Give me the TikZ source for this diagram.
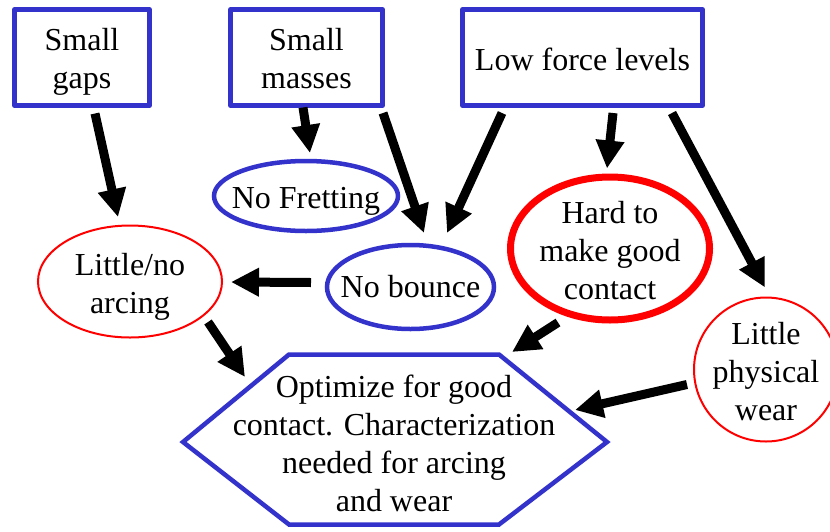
\documentclass[tikz,border=0pt]{standalone}
\usepackage{fontspec}
\setmainfont{Liberation Serif}
\usetikzlibrary{arrows.meta,shapes.geometric}
\definecolor{causeblue}{HTML}{3333CC}
\definecolor{warnred}{HTML}{FF0000}
\begin{document}
\begin{tikzpicture}[x=1pt,y=-1pt,
  txt/.style={font=\fontsize{32}{38}\selectfont, align=center, inner sep=0pt},
  frame/.style={inner sep=0pt, outer sep=0pt},
  causebox/.style={frame, draw=causeblue, line width=4.5pt, rectangle, line join=round, minimum height=96pt},
  blueoval/.style={frame, draw=causeblue, line width=4.5pt, ellipse},
  thinoval/.style={frame, draw=warnred, line width=2pt, ellipse},
  thickoval/.style={frame, draw=warnred, line width=7pt, ellipse},
  hexline/.style={draw=causeblue, line width=4.5pt},
  flow/.style={line width=9pt, -{Triangle[width=27pt,length=28pt]}}
]
\useasboundingbox (0,0) rectangle (830,531);

% causes along the top (text lowered slightly inside each frame)
\node[causebox, minimum width=135pt] (gaps) at (82,57.5) {};
\node[txt] (gaps-text) at ([yshift=-4]gaps.center) {Small\\gaps};
\node[causebox, minimum width=152pt] (masses) at (306.5,57.5) {};
\node[txt] (masses-text) at ([yshift=-1.5]masses.center) {Small\\masses};
\node[causebox, minimum width=240pt] (force) at (582.5,57.5) {};
\node[txt] (force-text) at ([yshift=-2]force.center) {Low force levels};

% effects
\node[blueoval, minimum width=184pt, minimum height=70pt] (fret) at (306,196) {};
\node[txt] (fret-text) at ([yshift=-5]fret.center) {No Fretting};

\node[thinoval, minimum width=184pt, minimum height=112pt] (arc) at (130,281.5) {};
\node[txt] (arc-text) at ([yshift=-5]arc.center) {Little/no\\arcing};

\node[blueoval, minimum width=167pt, minimum height=84pt] (bounce) at (410.5,287) {};
\node[txt] (bounce-text) at (bounce.center) {No bounce};

\node[thickoval, minimum width=199pt, minimum height=143pt] (hard) at (610,248.5) {};
\node[txt] (hard-text) at ([yshift=-2]hard.center) {Hard to\\make good\\contact};

\node[thinoval, minimum width=144pt, minimum height=144pt] (wear) at (766,369.5) {};
\node[txt] (wear-text) at ([yshift=-2]wear.center) {Little\\physical\\wear};

% conclusion
\coordinate (goal) at (394,442);
\draw[hexline] ([shift={(-211,0)}]goal) -- ([shift={(-105,-87.5)}]goal)
  -- ([shift={(105,-87.5)}]goal) -- ([shift={(213,0)}]goal)
  -- ([shift={(105,82.5)}]goal) -- ([shift={(-105,82.5)}]goal) -- cycle;
\node[txt] (goal-text) at ([yshift=-1.5]goal) {Optimize for good\\contact. Characterization\\needed for arcing\\and wear};

% connectors
\draw[flow] ([shift={(13,56)}]gaps.center) -- ([shift={(-12,-64.5)}]arc.center);
\draw[flow] ([shift={(-3.5,50)}]masses.center) -- ([shift={(4,-43)}]fret.center);
\draw[flow] ([shift={(76.5,55.5)}]masses.center) -- ([shift={(13.5,-54)}]bounce.center);
\draw[flow] ([shift={(-80.5,55.5)}]force.center) -- ([shift={(36.5,-54)}]bounce.center);
\draw[flow] ([shift={(30.5,55.5)}]force.center) -- ([shift={(-3,-80)}]hard.center);
\draw[flow] ([shift={(89.5,55.5)}]force.center) -- ([shift={(-1,-82)}]wear.center);
\draw[flow] ([shift={(-99.5,-4.5)}]bounce.center) -- ([shift={(101,0.5)}]arc.center);
\draw[flow] ([shift={(78,40.5)}]arc.center) -- ([shift={(-149,-65)}]goal);
\draw[flow] ([shift={(-52,74)}]hard.center) -- ([shift={(118,-90)}]goal);
\draw[flow] ([shift={(-79,15)}]wear.center) -- ([shift={(181,-32)}]goal);
\end{tikzpicture}
\end{document}
